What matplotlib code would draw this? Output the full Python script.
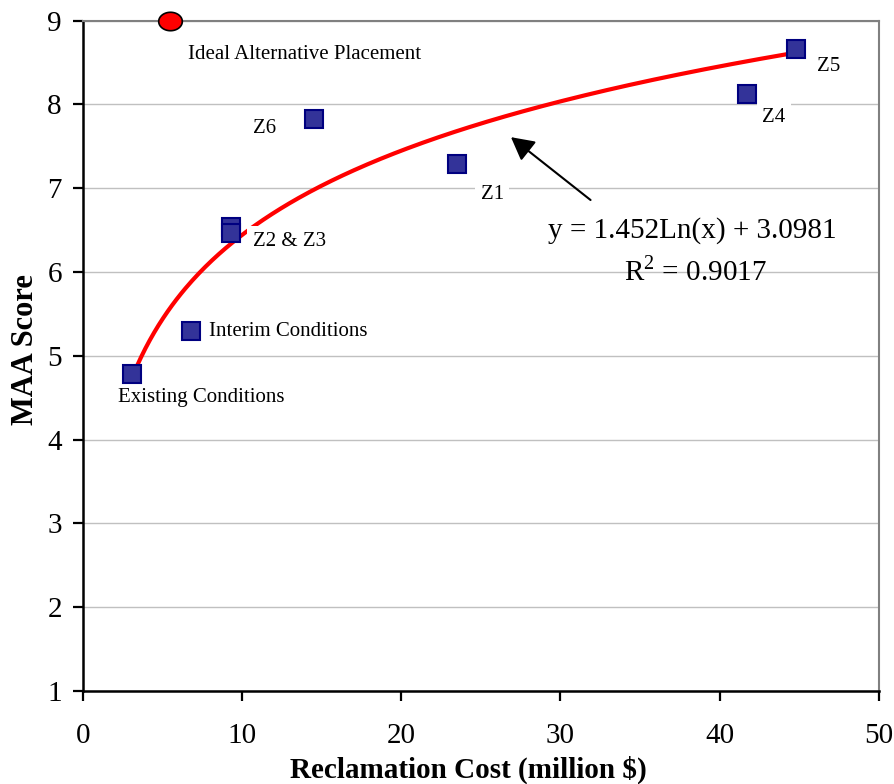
import numpy as np
import matplotlib
matplotlib.use("Agg")
from matplotlib import pyplot as plt
from matplotlib.path import Path

# scenario data
labels = ["Existing Conditions", "Interim Conditions", "Z2 & Z3", "Z2 & Z3",
          "Z6", "Z1", "Z4", "Z5"]
cost = [3.1, 6.8, 9.3, 9.3, 14.5, 23.5, 41.7, 44.8]
score = [4.78, 5.30, 6.54, 6.47, 7.83, 7.29, 8.12, 8.66]

ideal_cost = [5.5]
ideal_score = [9.0]

# trendline coefficients printed on the chart
fit_a = 1.452
fit_b = 3.0981
fit_r2 = 0.9017

# label anchor points (left edge, vertical centre)
text_names = ["Ideal Alternative Placement", "Z6", "Z2 & Z3", "Interim Conditions",
              "Existing Conditions", "Z1", "Z4", "Z5"]
text_x = [6.6, 10.7, 10.7, 7.95, 2.2, 25.0, 42.7, 46.1]
text_y = [8.60, 7.71, 6.37, 5.29, 4.50, 6.93, 7.84, 8.45]

plt.rcParams['font.family'] = ['Liberation Serif', 'DejaVu Serif']
plt.rcParams['mathtext.fontset'] = 'custom'
plt.rcParams['mathtext.rm'] = 'Liberation Serif'

fig = plt.figure(figsize=(8.95, 7.84), dpi=100)
ax = fig.add_axes([0.0924, 0.1186, 0.8894, 0.855])

ax.set_xlim(0, 50)
ax.set_ylim(1, 9)
ax.set_xticks(np.arange(0, 51, 10))
ax.set_yticks(np.arange(1, 10, 1))
ax.yaxis.grid(True, color='#c0c0c0', linewidth=1)
ax.set_axisbelow(True)

for side in ['top', 'right']:
    ax.spines[side].set_color('#808080')
    ax.spines[side].set_linewidth(1.5)
for side in ['left', 'bottom']:
    ax.spines[side].set_color('black')
    ax.spines[side].set_linewidth(1.8)
ax.tick_params(direction='out', length=7, width=1.6, labelsize=21, pad=8)
ax.tick_params(axis='x', pad=16)

# log trendline over the data range
xs = np.linspace(min(cost), max(cost), 300)
ax.plot(xs, fit_a * np.log(xs) + fit_b, color='red', linewidth=3, zorder=3)

ax.plot(cost, score, linestyle='none', marker='s', markersize=12.5,
        markerfacecolor='#333399', markeredgecolor='#000080',
        markeredgewidth=1.5, zorder=4, clip_on=False)

# slightly wide ellipse for the ideal point
t = np.linspace(0, 2 * np.pi, 60)
ellipse = Path(np.column_stack([1.28 * np.cos(t), np.sin(t)]))
ax.plot(ideal_cost, ideal_score, linestyle='none', marker=ellipse, markersize=17,
        markerfacecolor='red', markeredgecolor='black', markeredgewidth=1.2,
        zorder=5, clip_on=False)

# labels sit on white boxes that hide the gridlines / trendline behind them
for name, tx, ty in zip(text_names, text_x, text_y):
    ax.text(tx, ty, name, fontsize=15, ha='left', va='center', zorder=3.5,
            bbox=dict(facecolor='white', edgecolor='none', pad=4))

ax.annotate('', xy=(26.9, 7.61), xytext=(31.9, 6.86),
            arrowprops=dict(arrowstyle='-|>,head_length=1.4,head_width=0.75',
                            color='black', linewidth=1.5, shrinkA=0, shrinkB=0))
ax.text(38.3, 6.50, 'y = %.3fLn(x) + %.4f' % (fit_a, fit_b), fontsize=21,
        ha='center', va='center')
ax.text(38.5, 6.01, 'R$^{2}$ = %.4f' % fit_r2, fontsize=21, ha='center', va='center')

ax.set_xlabel('Reclamation Cost (million $)', fontsize=21, fontweight='bold')
ax.set_ylabel('MAA Score', fontsize=22, fontweight='bold')
ax.xaxis.set_label_coords(0.485, -0.097)
ax.yaxis.set_label_coords(-0.054, 0.51)

fig.savefig('out.png', dpi=100)
